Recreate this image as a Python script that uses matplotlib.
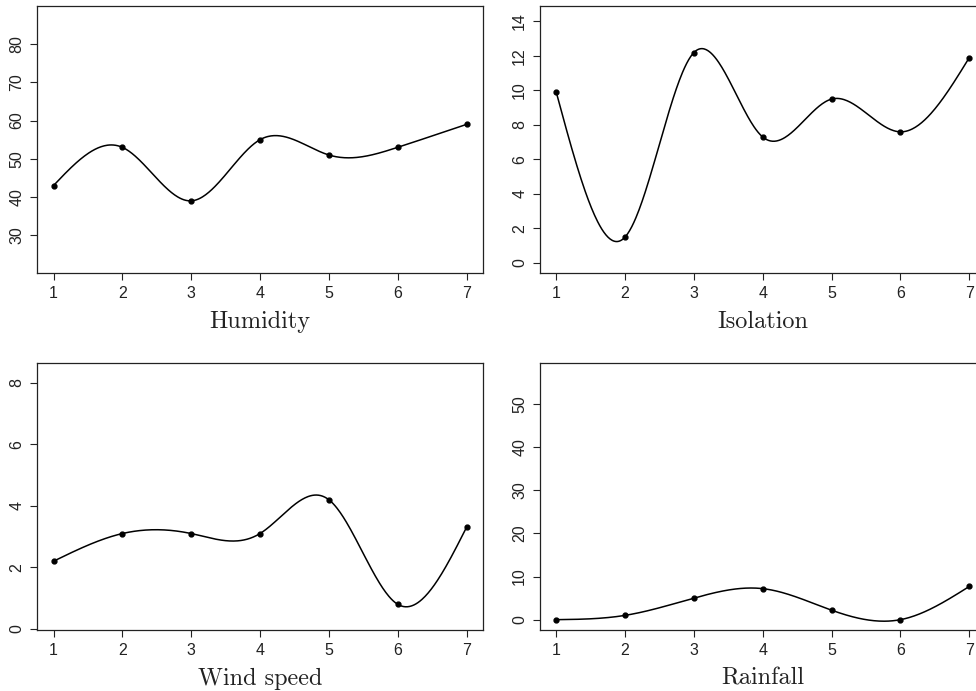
import matplotlib
matplotlib.use("Agg")
import matplotlib.pyplot as plt
import numpy as np

# Data: one value per period 1..7
periods = [1, 2, 3, 4, 5, 6, 7]
humidity = [43, 53, 39, 55, 51, 53, 59]
isolation = [9.9, 1.5, 12.2, 7.3, 9.5, 7.6, 11.9]
wind_speed = [2.2, 3.1, 3.1, 3.1, 4.2, 0.8, 3.3]
rainfall = [0.0, 1.0, 5.0, 7.2, 2.2, 0.0, 7.7]

panel_names = ["Humidity", "Isolation", "Wind speed", "Rainfall"]
y_limits = [(20.25, 89.84), (-0.56, 14.87), (-0.02, 8.63), (-2.28, 59.44)]
y_ticks = [range(30, 81, 10), range(0, 15, 2), range(0, 9, 2), range(0, 51, 10)]

plt.rcParams["font.family"] = ["Liberation Sans", "DejaVu Sans"]


def natural_spline(x, y, n=400):
    """Natural cubic spline through (x, y), evaluated on a dense grid."""
    x = np.asarray(x, dtype=float)
    y = np.asarray(y, dtype=float)
    k = len(x)
    h = np.diff(x)
    A = np.zeros((k, k))
    b = np.zeros(k)
    A[0, 0] = A[-1, -1] = 1.0
    for i in range(1, k - 1):
        A[i, i - 1] = h[i - 1]
        A[i, i] = 2 * (h[i - 1] + h[i])
        A[i, i + 1] = h[i]
        b[i] = 6 * ((y[i + 1] - y[i]) / h[i] - (y[i] - y[i - 1]) / h[i - 1])
    M = np.linalg.solve(A, b)

    xs = np.linspace(x[0], x[-1], n)
    idx = np.clip(np.searchsorted(x, xs) - 1, 0, k - 2)
    x0, x1 = x[idx], x[idx + 1]
    hh = x1 - x0
    t0, t1 = x1 - xs, xs - x0
    ys = (M[idx] * t0 ** 3 + M[idx + 1] * t1 ** 3) / (6 * hh) \
        + (y[idx] / hh - M[idx] * hh / 6) * t0 \
        + (y[idx + 1] / hh - M[idx + 1] * hh / 6) * t1
    return xs, ys


fig = plt.figure(figsize=(9.76, 6.91), dpi=100)

# panel boxes in figure fractions; the right column runs a little past the edge
lefts = [0.0379, 0.553]
bottoms = [0.6056, 0.089]
w, h = 0.457, 0.385

series = [humidity, isolation, wind_speed, rainfall]
for k, (name, values) in enumerate(zip(panel_names, series)):
    row, col = divmod(k, 2)
    ax = fig.add_axes([lefts[col], bottoms[row], w, h])

    xs, ys = natural_spline(periods, values)
    ax.plot(xs, ys, color="black", lw=1.1)
    ax.plot(periods, values, "o", color="black", ms=3.5)

    ax.set_xlim(0.76, 7.24)
    ax.set_ylim(*y_limits[k])
    ax.set_xticks(periods)
    ax.set_yticks(list(y_ticks[k]))

    ax.tick_params(axis="both", direction="out", length=5, width=0.8,
                   labelsize=11.5, color="#222222", labelcolor="#222222")
    ax.tick_params(axis="x", pad=5)
    ax.tick_params(axis="y", pad=4, labelrotation=90)
    for lab in ax.get_yticklabels():
        lab.set_verticalalignment("center")

    for spine in ax.spines.values():
        spine.set_linewidth(0.9)
        spine.set_color("#222222")

    ax.set_xlabel(name, fontfamily="cmr10", fontsize=17.5, labelpad=6.5,
                  color="#222222")

fig.savefig("out.png", dpi=100)
plt.close(fig)
